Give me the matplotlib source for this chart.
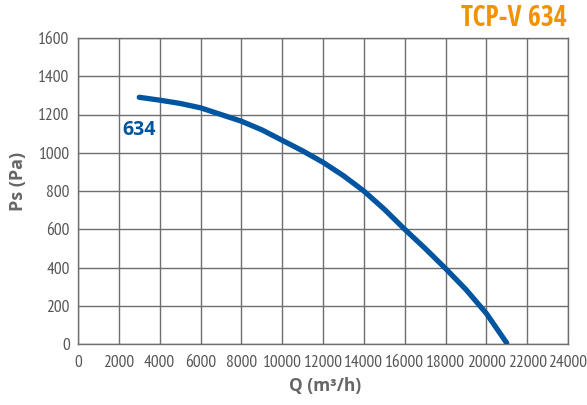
import matplotlib
matplotlib.use("Agg")
import matplotlib.pyplot as plt

q = [3000, 4000, 5000, 6000, 7000, 8000, 9000, 10000, 11000, 12000, 13000,
     14000, 15000, 16000, 17000, 18000, 19000, 20000, 21000]
ps = [1290, 1275, 1258, 1235, 1200, 1165, 1120, 1065, 1010, 950, 880,
      800, 705, 600, 500, 395, 285, 160, 5]
x_ticks = list(range(0, 24001, 2000))
y_ticks = list(range(0, 1601, 200))
series_label = "634"
title_main = "TCP-V "
title_model = "634"

narrow = ["PT Sans Narrow", "Open Sans Condensed", "DejaVu Sans"]
cond_bold = ["Open Sans Condensed", "PT Sans Narrow", "DejaVu Sans"]

fig = plt.figure(figsize=(5.87, 4.05), dpi=100)
ax = fig.add_axes([78/587, 1-344/405, (568-78)/587, (344-38)/405])

grid_c = "#6e6e6e"
ax.set_xlim(0, 24000)
ax.set_ylim(0, 1600)
ax.set_xticks(x_ticks)
ax.set_yticks(y_ticks)
ax.grid(True, color=grid_c, linewidth=1.0)
ax.set_axisbelow(True)
for s in ax.spines.values():
    s.set_color(grid_c)
    s.set_linewidth(1.0)
ax.tick_params(length=0, labelcolor="#555555")
ax.tick_params(axis="x", pad=8)
ax.tick_params(axis="y", pad=6)
for lab in ax.get_xticklabels() + ax.get_yticklabels():
    lab.set_fontfamily(narrow)
    lab.set_fontsize(12.5)
    lab.set_fontweight("normal")

ax.plot(q, ps, color="#0055a0", linewidth=3.8, solid_capstyle="round", zorder=3)
ax.text(3000, 1118, series_label, color="#0055a0", fontsize=14,
        fontweight="bold", ha="center", va="center", family="Open Sans")

ax.set_xlabel("Q (m³/h)", fontsize=12.5, fontweight="bold", color="#666666",
              family="Open Sans")
ax.set_ylabel("Ps (Pa)", fontsize=13, fontweight="bold", color="#666666",
              family="Open Sans")
ax.xaxis.set_label_coords((325-78)/490, -(386-344)/306)
ax.yaxis.set_label_coords((18-78)/490, (344-181)/306)
ax.xaxis.label.set_va("center")
ax.yaxis.label.set_va("center")

t1 = fig.text(567/587, 1-19/405, title_model, color="#f39200", fontsize=20,
              fontweight="bold", ha="right", va="center", family=cond_bold)
fig.canvas.draw()
bb = t1.get_window_extent()
fig.text(bb.x0/587, 1-19/405, title_main, color="#f39200", fontsize=20,
         fontweight="medium", ha="right", va="center", family=cond_bold)

fig.savefig("out.png", dpi=100)
